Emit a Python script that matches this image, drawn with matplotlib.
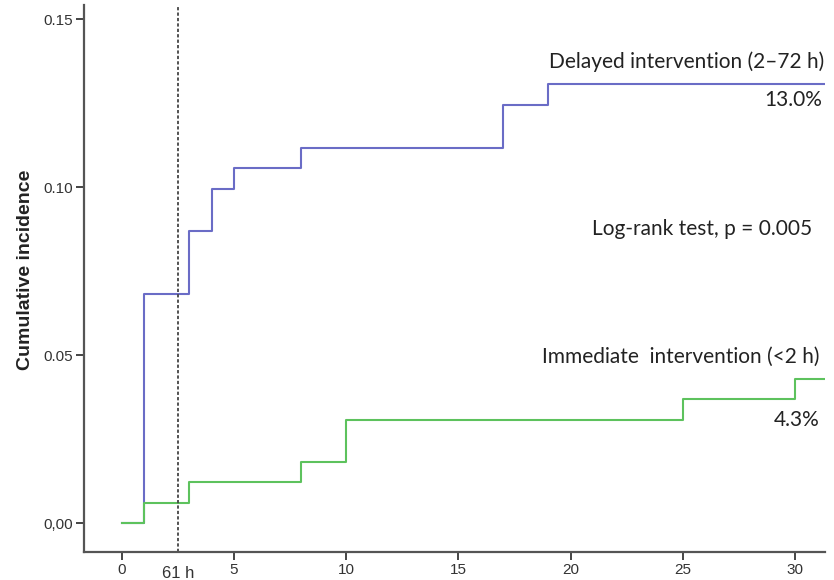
import numpy as np
import matplotlib
matplotlib.use("Agg")
import matplotlib.pyplot as plt
import matplotlib.transforms as mtransforms

# step times (h) and cumulative incidence after each step
delayed_t = [0, 1, 3, 4, 5, 8, 17, 19, 31.4]
delayed_y = [0.0, 0.0682, 0.0869, 0.0994, 0.1056, 0.1116, 0.1243, 0.1306, 0.1306]
immediate_t = [0, 1, 3, 8, 10, 25, 30, 31.4]
immediate_y = [0.0, 0.0059, 0.0122, 0.0181, 0.0306, 0.0368, 0.0430, 0.0430]

x_ticks = [0, 5, 10, 15, 20, 25, 30]
y_ticks = [0.0, 0.05, 0.10, 0.15]
y_labels = ["0,00", "0.05", "0.10", "0.15"]
cut_time = 2.5

fig = plt.figure(figsize=(8.34, 5.8), dpi=100)
ax = fig.add_axes([0.1007, 0.0483, 0.8885, 0.9431])

ax.step(delayed_t, delayed_y, where="post", color="#6a6cc6", lw=1.5)
ax.step(immediate_t, immediate_y, where="post", color="#5dc25d", lw=1.5)
ax.axvline(cut_time, color="#444444", lw=1.3, ls=(0, (1.8, 1.2)))

ax.set_xlim(-1.69, 31.34)
ax.set_ylim(-0.0086, 0.1542)
ax.set_xticks(x_ticks)
ax.set_yticks(y_ticks)
ax.set_yticklabels(y_labels)

for s in ["top", "right"]:
    ax.spines[s].set_visible(False)
for s in ["left", "bottom"]:
    ax.spines[s].set_color("#555555")
    ax.spines[s].set_linewidth(1.6)
ax.tick_params(length=6, width=1.4, color="#444444", labelsize=11,
               labelcolor="#333333", pad=2)
for lab in ax.get_xticklabels() + ax.get_yticklabels():
    lab.set_family("Liberation Sans")

ax.set_ylabel("Cumulative incidence", fontsize=14, fontweight="bold",
              family="Liberation Sans", color="#222222")
ax.yaxis.set_label_coords(-0.068, 0.5155)

trans = mtransforms.blended_transform_factory(ax.transData, ax.transAxes)
ax.text(cut_time, -0.04, "61 h", transform=trans, ha="center", va="center",
        fontsize=12, family="Liberation Sans", color="#333333")

tfont = dict(family="Lato", fontsize=15, color="#222222")
ax.text(31.3, 0.1372, "Delayed intervention (2\u201372 h)", ha="right", va="center", **tfont)
ax.text(31.2, 0.1259, "13.0%", ha="right", va="center", **tfont)
ax.text(30.76, 0.0875, "Log-rank test, p = 0.005", ha="right", va="center", **tfont)
ax.text(31.1, 0.0494, "Immediate  intervention (<2 h)", ha="right", va="center", **tfont)
ax.text(31.1, 0.0307, "4.3%", ha="right", va="center", **tfont)

fig.savefig("out.png", dpi=100)
